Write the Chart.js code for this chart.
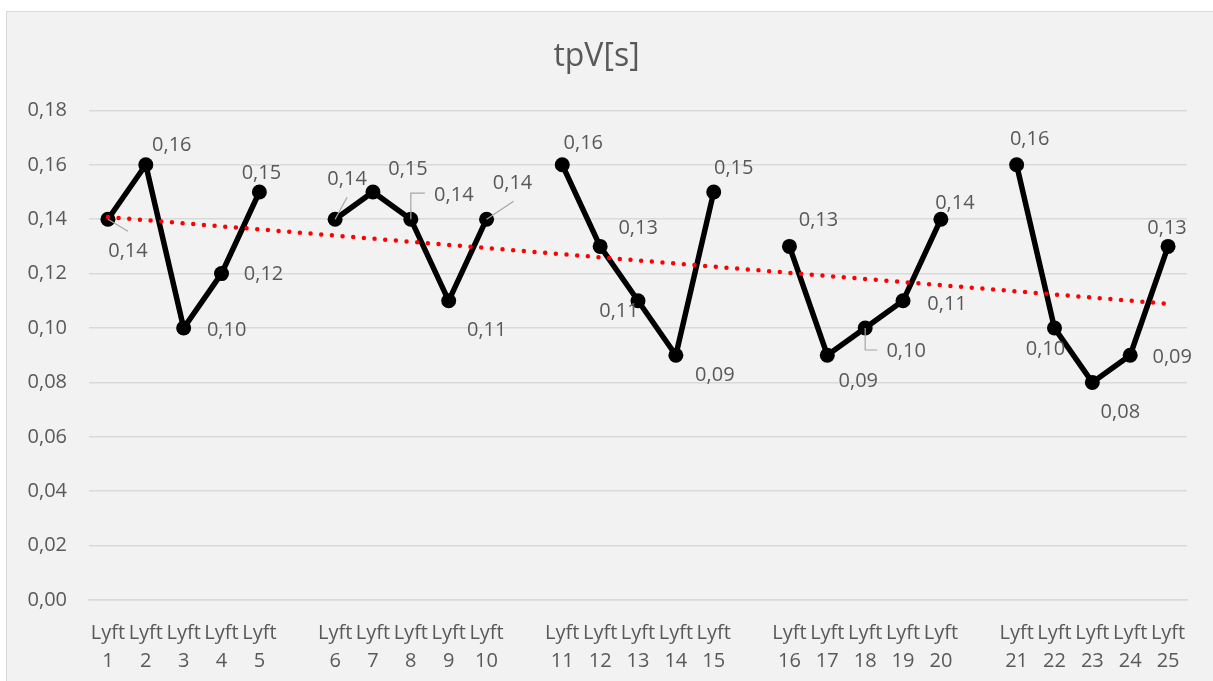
<!DOCTYPE html>
<html>
<head>
<meta charset="utf-8">
<title>tpV[s]</title>
<script src="https://cdn.jsdelivr.net/npm/chart.js@4.4.1/dist/chart.umd.min.js"></script>
<style>
  html, body { margin: 0; padding: 0; background: #ffffff; }
  canvas { display: block; }
</style>
</head>
<body>
<canvas id="chart" width="1213" height="681"></canvas>
<script>
// Lifts, grouped in fives; an empty slot separates each group
const categories = [
  ['Lyft', '1'], ['Lyft', '2'], ['Lyft', '3'], ['Lyft', '4'], ['Lyft', '5'], '',
  ['Lyft', '6'], ['Lyft', '7'], ['Lyft', '8'], ['Lyft', '9'], ['Lyft', '10'], '',
  ['Lyft', '11'], ['Lyft', '12'], ['Lyft', '13'], ['Lyft', '14'], ['Lyft', '15'], '',
  ['Lyft', '16'], ['Lyft', '17'], ['Lyft', '18'], ['Lyft', '19'], ['Lyft', '20'], '',
  ['Lyft', '21'], ['Lyft', '22'], ['Lyft', '23'], ['Lyft', '24'], ['Lyft', '25']
];

// tpV in seconds; null marks the separator slots
const tpV = [
  0.14, 0.16, 0.10, 0.12, 0.15, null,
  0.14, 0.15, 0.14, 0.11, 0.14, null,
  0.16, 0.13, 0.11, 0.09, 0.15, null,
  0.13, 0.09, 0.10, 0.11, 0.14, null,
  0.16, 0.10, 0.08, 0.09, 0.13
];

// Linear trend: value at Lyft 1 and at Lyft 25
const trendEnds = [0.1408, 0.1089];

// Y axis range
const yMin = 0;
const yMax = 0.18;
const yStep = 0.02;

const trendData = categories.map(() => null);
trendData[0] = trendEnds[0];
trendData[categories.length - 1] = trendEnds[1];

const fmt = v => v.toFixed(2).replace('.', ',');

const TEXT = '#595959';
const FONT = "'Open Sans', 'Liberation Sans', sans-serif";

// Label placement for each lift (centre offset from the marker) and optional leader lines
const labelOffsets = [
  [20, 32], [26, -20], [43, 2], [42, 1], [2, -19],
  [12, -40], [35, -23], [43, -24], [38, 29], [26, -36],
  [21, -22], [38, -18], [-19, 10], [39, 20], [20, -24],
  [29, -26], [31, 26], [41, 23], [44, 3], [14, -16],
  [13, -26], [-9, 21], [28, 30], [42, 2], [-1, -18]
];
const leaders = {
  0: [[0, 0], [20, 12]],
  5: [[0, 0], [12, -22]],
  7: [[0, 0], [0, -26], [14, -26]],
  9: [[0, 0], [27, -18]],
  17: [[0, 0], [0, 22], [12, 22]]
};

const frame = {
  id: 'frame',
  beforeDraw(chart) {
    const ctx = chart.ctx;
    ctx.save();
    ctx.fillStyle = '#ffffff';
    ctx.fillRect(0, 0, chart.width, chart.height);
    ctx.fillStyle = '#f2f2f2';
    ctx.fillRect(6, 11, chart.width, chart.height);
    ctx.strokeStyle = '#d9d9d9';
    ctx.lineWidth = 1;
    ctx.strokeRect(6.5, 11.5, chart.width + 10, chart.height + 10);
    ctx.restore();
  }
};

const valueLabels = {
  id: 'valueLabels',
  afterDatasetsDraw(chart) {
    const ctx = chart.ctx;
    const meta = chart.getDatasetMeta(0);
    const data = chart.data.datasets[0].data;
    ctx.save();
    ctx.font = '20px ' + FONT;
    ctx.fillStyle = TEXT;
    ctx.textAlign = 'center';
    ctx.textBaseline = 'middle';
    let k = 0;
    data.forEach((v, i) => {
      if (v === null) return;
      const pt = meta.data[i];
      const off = labelOffsets[k];
      if (leaders[k]) {
        ctx.beginPath();
        ctx.strokeStyle = '#a6a6a6';
        ctx.lineWidth = 1.2;
        leaders[k].forEach(([dx, dy], j) => {
          if (j === 0) ctx.moveTo(pt.x + dx, pt.y + dy);
          else ctx.lineTo(pt.x + dx, pt.y + dy);
        });
        ctx.stroke();
      }
      ctx.fillText(fmt(v), pt.x + off[0], pt.y + off[1]);
      k++;
    });
    ctx.restore();
  }
};

new Chart(document.getElementById('chart'), {
  type: 'line',
  data: {
    labels: categories,
    datasets: [
      {
        label: 'tpV[s]',
        data: tpV,
        borderColor: '#000000',
        backgroundColor: '#000000',
        borderWidth: 5.5,
        pointRadius: 7.5,
        pointBorderWidth: 0,
        pointBackgroundColor: '#000000',
        spanGaps: false,
        tension: 0,
        order: 1
      },
      {
        label: 'Trend',
        data: trendData,
        borderColor: '#ff0000',
        borderWidth: 4.5,
        borderDash: [0, 10.7],
        borderCapStyle: 'round',
        pointRadius: 0,
        spanGaps: true,
        tension: 0,
        order: 0
      }
    ]
  },
  options: {
    responsive: false,
    animation: false,
    layout: { padding: { left: 6, top: 11, right: 26, bottom: 0 } },
    plugins: {
      legend: { display: false },
      tooltip: { enabled: false },
      title: {
        display: true,
        text: 'tpV[s]',
        color: TEXT,
        font: { family: FONT, size: 32, weight: 'normal', lineHeight: 1.2 },
        padding: { top: 27, bottom: 34 }
      }
    },
    scales: {
      x: {
        offset: true,
        grid: { display: false, drawTicks: false },
        border: { display: true, color: '#d9d9d9', width: 1.5 },
        ticks: {
          color: TEXT,
          font: { family: FONT, size: 20, lineHeight: 1.4 },
          padding: 19,
          maxRotation: 0,
          minRotation: 0,
          autoSkip: false
        },
        afterFit(scale) { scale.height = 81; }
      },
      y: {
        min: yMin,
        max: yMax,
        grid: { color: '#d9d9d9', lineWidth: 1.5, drawTicks: false },
        border: { display: false },
        ticks: {
          stepSize: yStep,
          color: TEXT,
          font: { family: FONT, size: 20 },
          padding: 22,
          callback: v => fmt(v)
        },
        afterFit(scale) { scale.width = 83; }
      }
    }
  },
  plugins: [frame, valueLabels]
});
</script>
</body>
</html>
